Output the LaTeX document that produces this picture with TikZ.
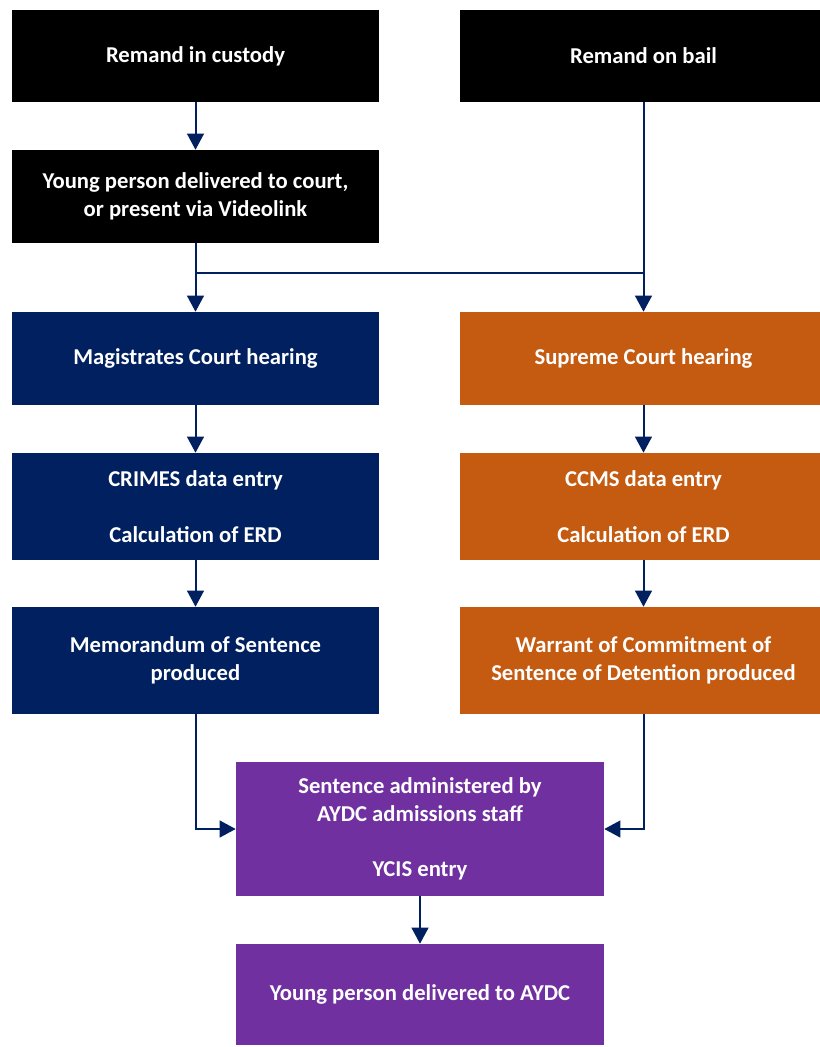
\documentclass[tikz,border=0pt]{standalone}
\usepackage{fontspec}
\setmainfont{Carlito}
\usetikzlibrary{arrows.meta}

\definecolor{navy}{HTML}{002060}
\definecolor{rust}{HTML}{C55A11}
\definecolor{plum}{HTML}{7030A0}

\begin{document}
\begin{tikzpicture}[x=0.75pt, y=-0.75pt,
	every node/.style={rectangle, text=white, align=center, font=\bfseries\fontsize{17}{20.75}\selectfont, minimum width=275.25pt, inner sep=0pt},
	link/.style={draw=navy, line width=1.5pt},
	flow/.style={link, -{Triangle[width=12.5pt, length=12pt]}}]
				\useasboundingbox (0,0) rectangle (820,1047);
				\clip (0,0) rectangle (820,1047);
				
				\node[fill=black, minimum height=69pt] (custody) at (195.5,56){Remand in custody};
				\node[fill=black, minimum height=69pt] (bail) at (643.5,56){Remand on bail};
				\node[fill=black, minimum height=69.75pt] (court) at (195.5,196.5){Young person delivered to court,\\or present via Videolink};
				
				\node[fill=navy, minimum height=69.75pt] (magistrates) at (195.5,358.5){Magistrates Court hearing};
				\node[fill=rust, minimum height=69.75pt] (supreme) at (643.5,358.5){Supreme Court hearing};
				\node[fill=navy, minimum height=80.25pt] (crimes) at (195.5,506.5){CRIMES data entry\\[20.75pt]Calculation of ERD};
				\node[fill=rust, minimum height=80.25pt] (ccms) at (643.5,506.5){CCMS data entry\\[20.75pt]Calculation of ERD};
				\node[fill=navy, minimum height=80.25pt] (memo) at (195.5,660.5){Memorandum of Sentence\\produced};
				\node[fill=rust, minimum height=80.25pt] (warrant) at (643.5,660.5){Warrant of Commitment of\\Sentence of Detention produced};
				
				\node[fill=plum, minimum width=276pt, minimum height=100.5pt] (admin) at (420,829){Sentence administered by\\AYDC admissions staff\\[20.75pt]YCIS entry};
				\node[fill=plum, minimum width=276pt, minimum height=75.75pt] (aydc) at (420,994.5){Young person delivered to AYDC};
				
				\coordinate (split) at (195.5,273);
				
				\path[flow] (custody) -- (court);
				\path[flow] (court) -- (magistrates);
				\path[link] (split) -- (split -| bail);
				\path[flow] (bail) -- (supreme);
				\path[flow] (magistrates) -- (crimes);
				\path[flow] (supreme) -- (ccms);
				\path[flow] (crimes) -- (memo);
				\path[flow] (ccms) -- (warrant);
				\path[flow] (memo) |- (admin);
				\path[flow] (warrant) |- (admin);
				\path[flow] (admin) -- (aydc);
\end{tikzpicture}
\end{document}
